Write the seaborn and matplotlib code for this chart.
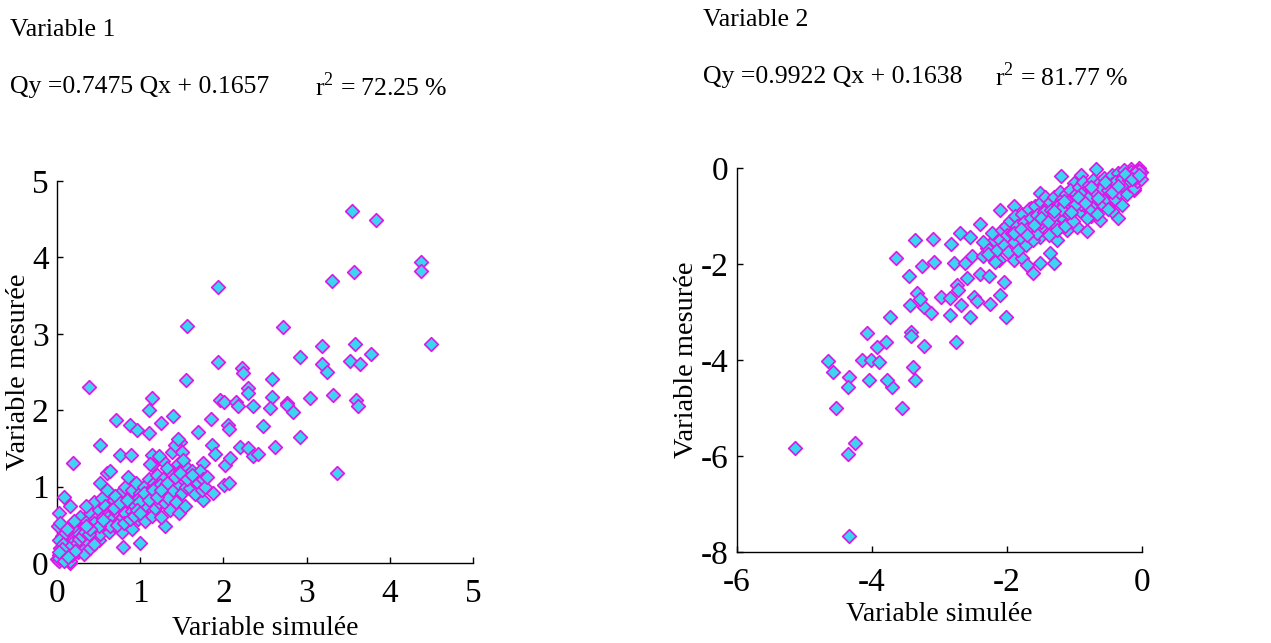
import matplotlib
matplotlib.use("Agg")
import matplotlib.pyplot as plt
import seaborn as sns
import pandas as pd

# ---------------- data ----------------
# Panel 1 : Variable 1 (simulée, mesurée)
v1_sim = [
    3.54, 3.83, 4.37, 4.38, 3.57, 3.30, 1.93, 1.56, 2.72, 4.49, 3.19, 3.58, 2.92, 3.78, 3.52, 3.64,
    3.19, 3.25, 1.94, 2.22, 2.23, 2.58, 1.55, 0.38, 2.29, 2.30, 3.32, 3.04, 2.59, 2.76, 2.77, 3.59,
    3.62, 1.96, 2.01, 2.15, 2.17, 2.36, 2.56, 2.84, 1.14, 1.10, 1.40, 1.85, 0.71, 0.88, 0.96, 1.10,
    1.25, 1.70, 2.06, 2.07, 2.48, 2.92, 0.52, 0.76, 0.89, 1.14, 1.48, 1.86, 1.90, 2.20, 2.30, 2.36,
    2.42, 2.62, 3.37, 0.19, 0.60, 1.14, 1.27, 1.75, 2.02, 2.08, 2.01, 2.07, 1.75, 1.88, 0.08, 0.16,
    0.02, 0.01, 0.52, 0.79, 1.00, 0.16, 1.30,
    0.00, 0.02, 0.03, 0.05, 0.06, 0.08, 0.10, 0.10, 0.12, 0.14, 0.15, 0.16, 0.18, 0.20, 0.22, 0.24,
    0.25, 0.27, 0.28, 0.30, 0.04, 0.06, 0.12, 0.20, 0.02,
    0.32, 0.33, 0.35, 0.36, 0.38, 0.40, 0.40, 0.42, 0.43, 0.45, 0.46, 0.48, 0.50, 0.50, 0.52, 0.54,
    0.55, 0.56, 0.58, 0.60, 0.35, 0.44, 0.52,
    0.60, 0.62, 0.63, 0.65, 0.66, 0.68, 0.70, 0.70, 0.72, 0.73, 0.75, 0.75, 0.77, 0.78, 0.80, 0.80,
    0.82, 0.83, 0.85, 0.86, 0.88, 0.88, 0.90, 0.90, 0.92, 0.93, 0.95, 0.95, 0.97, 0.98, 1.00, 1.00,
    0.64, 0.70, 0.85,
    1.02, 1.03, 1.05, 1.06, 1.08, 1.10, 1.10, 1.12, 1.14, 1.15, 1.16, 1.18, 1.20, 1.20, 1.22, 1.24,
    1.25, 1.26, 1.28, 1.30, 1.30, 1.32, 1.34, 1.35, 1.36, 1.38, 1.40, 1.40, 1.12, 1.22,
    1.42, 1.43, 1.45, 1.46, 1.47, 1.48, 1.50, 1.50, 1.52, 1.54, 1.55, 1.56, 1.58, 1.60, 1.62, 1.64,
    1.66, 1.68, 1.70, 1.72, 1.74, 1.76, 1.78, 1.80, 1.45, 1.52,
    0.55, 0.58, 0.60, 0.62, 0.64, 0.66, 0.68, 0.70, 0.72, 0.74, 0.76, 0.78, 0.80, 0.82, 0.84, 0.86,
    0.88, 0.90, 0.92, 0.94, 0.96, 0.98, 1.00, 1.02, 1.04, 1.06, 0.05, 0.08, 0.10, 0.12, 0.15, 0.18,
    0.02, 0.04, 0.07, 0.22, 0.26, 0.30, 0.34, 0.38,
    1.16, 1.24, 1.32, 1.42, 1.48, 1.56, 1.62,
    0.62, 0.66, 0.70, 0.74, 0.78, 0.82, 0.86, 0.90, 0.94, 0.98, 0.64, 0.68, 0.72, 0.76, 0.80, 0.84,
    0.88, 0.92, 0.96, 1.00, 0.10, 0.14, 0.18, 0.22, 0.06, 0.03, 0.09, 0.13, 1.05, 1.10, 1.15, 1.20,
    1.25, 0.45, 0.50, 0.55, 0.40, 0.35,
]
v1_mes = [
    4.61, 4.49, 3.94, 3.82, 3.81, 3.69, 3.61, 3.10, 3.09, 2.87, 2.84, 2.87, 2.70, 2.74, 2.65, 2.60,
    2.61, 2.50, 2.63, 2.55, 2.49, 2.41, 2.40, 2.30, 2.29, 2.23, 2.20, 2.16, 2.17, 2.09, 2.07, 2.13,
    2.05, 2.13, 2.11, 2.11, 2.05, 2.05, 2.03, 1.98, 2.16, 2.00, 1.92, 1.89, 1.87, 1.81, 1.74, 1.70,
    1.83, 1.71, 1.81, 1.76, 1.79, 1.65, 1.55, 1.42, 1.42, 1.42, 1.59, 1.55, 1.43, 1.52, 1.50, 1.40,
    1.43, 1.52, 1.18, 1.31, 1.18, 1.28, 1.33, 1.31, 1.28, 1.37, 1.02, 1.05, 0.83, 0.91, 0.87, 0.74,
    0.65, 0.49, 1.05, 0.21, 0.26, 0.00, 0.48,
    0.05, 0.10, 0.02, 0.15, 0.08, 0.20, 0.05, 0.30, 0.12, 0.25, 0.40, 0.02, 0.18, 0.33, 0.28, 0.45,
    0.15, 0.38, 0.60, 0.22, 0.52, 0.35, 0.45, 0.55, 0.30,
    0.48, 0.12, 0.30, 0.55, 0.42, 0.20, 0.65, 0.50, 0.35, 0.80, 0.58, 0.45, 0.70, 0.30, 0.55, 0.85,
    0.45, 0.62, 0.75, 0.50, 0.75, 0.25, 0.38,
    0.95, 0.60, 0.40, 0.70, 0.55, 0.82, 0.48, 0.65, 0.58, 0.75, 0.90, 0.52, 0.68, 0.40, 0.78, 0.60,
    1.00, 0.70, 0.55, 0.85, 0.72, 0.62, 0.95, 0.45, 0.80, 0.68, 0.75, 1.05, 0.58, 0.85, 0.72, 0.92,
    1.20, 0.88, 1.12,
    0.65, 0.80, 1.00, 0.55, 0.88, 0.75, 1.10, 0.95, 0.62, 0.85, 1.05, 0.72, 0.92, 1.15, 0.80, 1.00,
    0.60, 0.88, 1.10, 0.78, 0.95, 1.25, 0.85, 1.05, 0.70, 1.45, 0.95, 1.15, 1.30, 1.40,
    1.55, 0.80, 1.05, 1.30, 0.65, 1.20, 0.92, 1.45, 1.10, 0.75, 1.00, 1.25, 1.15, 0.98, 1.20, 1.08,
    0.90, 1.15, 1.05, 1.20, 0.95, 1.10, 1.00, 1.12, 1.62, 1.35,
    0.60, 0.52, 0.58, 0.66, 0.50, 0.62, 0.55, 0.72, 0.64, 0.60, 0.70, 0.62, 0.68, 0.75, 0.66, 0.72,
    0.80, 0.70, 0.76, 0.64, 0.82, 0.70, 0.78, 0.74, 0.85, 0.76, 0.08, 0.12, 0.18, 0.22, 0.15, 0.26,
    0.06, 0.20, 0.25, 0.24, 0.32, 0.35, 0.40, 0.38,
    0.98, 1.02, 1.05, 1.12, 1.18, 1.10, 1.15,
    0.62, 0.58, 0.68, 0.55, 0.72, 0.65, 0.78, 0.68, 0.74, 0.80, 0.48, 0.72, 0.50, 0.78, 0.52, 0.82,
    0.58, 0.62, 0.70, 0.66, 0.10, 0.20, 0.10, 0.16, 0.18, 0.14, 0.02, 0.08, 0.92, 0.82, 0.96, 0.86,
    0.95, 0.52, 0.48, 0.56, 0.45, 0.48,
]

# Panel 2 : Variable 2 (simulée, mesurée)
v2_sim = [
    -5.14, -4.35, -4.25, -4.34, -4.65, -4.58, -4.34, -4.35, -4.53, -3.55, -3.70, -3.78, -4.04, -4.15,
    -4.01, -3.90, -3.93, -3.80, -4.07, -3.73, -3.37, -3.40, -3.23, -3.42, -3.42, -2.75, -3.44, -3.23,
    -3.12, -3.34, -3.29, -2.98, -2.85, -2.85, -3.45, -3.26, -3.08, -3.64, -3.37, -3.09, -2.83, -2.79,
    -2.74, -2.72, -2.68, -2.55, -2.59, -2.49, -2.45, -2.25, -2.02, -2.11, -2.04, -2.40, -2.27, -2.62,
    -2.52, -2.35, -2.30, -2.12, -2.10, -2.70, -2.55, -2.40, -2.11, -1.90, -1.78, -1.61, -1.71, -1.51,
    -1.31, -1.36, -1.20, -0.90, -0.68, -0.35, -0.45, -0.62, -0.81, -1.01, -1.51, -1.65, -1.90, -1.60,
    -1.90, -2.05, -2.20, -1.51, -1.26, -1.11, -0.96, -0.76, -0.41, -0.12, -0.17, -0.05,
    -2.35, -2.28, -2.22, -2.18, -2.15,
    -2.10, -2.08, -2.05, -2.02, -2.00, -1.98, -1.95, -1.92, -1.90, -1.88, -1.85, -1.83, -1.80, -1.78,
    -1.75, -1.72, -1.70, -1.68, -1.65, -1.62, -1.60, -1.58, -1.55, -1.52, -1.50,
    -1.48, -1.46, -1.44, -1.42, -1.40, -1.38, -1.36, -1.34, -1.32, -1.30, -1.28, -1.26, -1.24, -1.22,
    -1.20, -1.18, -1.16, -1.14, -1.12, -1.10, -1.08, -1.06, -1.04, -1.02, -1.00,
    -0.98, -0.96, -0.94, -0.92, -0.90, -0.88, -0.86, -0.84, -0.82, -0.80, -0.78, -0.76, -0.74, -0.72,
    -0.70, -0.68, -0.66, -0.64, -0.62, -0.60, -0.58, -0.56, -0.54, -0.52, -0.50,
    -0.48, -0.46, -0.44, -0.42, -0.40, -0.38, -0.36, -0.34, -0.32, -0.30, -0.28, -0.26, -0.24, -0.22,
    -0.20, -0.18, -0.16, -0.14, -0.12, -0.10, -0.08, -0.06, -0.04, -0.02, -0.01,
    -1.85, -1.75, -1.65, -1.55, -1.45, -1.35, -1.25, -1.15, -1.05, -0.95, -0.85, -0.75, -0.65, -0.55,
    -0.45, -0.35, -0.25, -0.15, -0.05, -1.70, -1.50, -1.30, -1.10, -0.90, -0.70, -0.50, -0.30, -0.10,
    -1.20, -1.10, -1.00, -0.90, -0.80, -0.70, -0.60, -0.50, -0.40, -0.30, -0.20, -0.10, -1.15, -1.05,
    -0.95, -0.85, -0.75, -0.65, -0.55, -0.45, -0.35, -0.25, -0.15, -0.05, -1.90, -1.80, -1.70, -1.60,
    -1.50, -1.40, -1.30,
]
v2_mes = [
    -5.83, -5.95, -5.73, -7.67, -4.03, -4.24, -4.35, -4.56, -4.99, -4.99, -4.57, -4.42, -4.42, -4.00,
    -4.01, -4.05, -3.72, -3.63, -3.44, -3.11, -4.42, -4.14, -3.71, -3.41, -3.51, -3.62, -2.85, -2.89,
    -3.03, -2.61, -2.73, -2.68, -2.71, -3.06, -2.26, -2.04, -1.96, -1.88, -1.51, -1.47, -1.58, -1.98,
    -2.43, -2.54, -2.85, -3.10, -2.30, -2.68, -2.78, -2.83, -3.10, -2.64, -2.37, -2.21, -2.26, -1.98,
    -1.84, -1.84, -1.67, -1.91, -1.64, -1.36, -1.43, -1.16, -0.87, -1.91, -1.88, -2.19, -2.02, -1.98,
    -1.98, -1.77, -0.16, -0.14, -0.03, -1.04, -0.90, -1.08, -1.32, -0.31, -0.52, -0.83, -0.80, -1.15,
    -1.29, -1.43, -1.50, -1.43, -1.50, -1.29, -1.22, -1.01, -0.66, -0.45, -0.03, 0.00,
    -1.55, -1.80, -1.35, -1.95, -1.70,
    -1.50, -1.30, -1.60, -1.20, -1.40, -1.75, -1.10, -1.35, -1.55, -1.00, -1.25, -1.70, -1.45, -0.95,
    -1.15, -1.60, -1.30, -0.85, -1.05, -1.50, -1.20, -0.80, -1.35, -1.00, -0.70,
    -1.20, -0.90, -0.60, -1.05, -0.80, -1.40, -0.70, -0.95, -1.15, -0.60, -0.85, -1.30, -0.75, -0.50,
    -1.00, -0.65, -0.88, -1.20, -0.55, -0.78, -0.95, -0.45, -0.68, -1.10, -0.85,
    -0.55, -0.72, -0.40, -0.90, -0.62, -0.30, -0.78, -0.50, -1.05, -0.65, -0.35, -0.85, -0.55, -0.25,
    -0.70, -0.45, -0.95, -0.58, -0.30, -0.75, -0.48, -0.20, -0.62, -0.38, -0.85,
    -0.52, -0.28, -0.15, -0.45, -0.65, -0.35, -0.10, -0.50, -0.25, -0.78, -0.40, -0.05, -0.30, -0.55,
    -0.18, -0.35, -0.08, -0.25, -0.42, -0.12, -0.28, -0.05, -0.18, -0.08, -0.22,
    -1.20, -1.12, -1.05, -0.98, -0.92, -0.88, -0.80, -0.76, -0.70, -0.64, -0.58, -0.52, -0.45, -0.40,
    -0.34, -0.28, -0.20, -0.14, -0.06, -1.28, -1.12, -0.98, -0.86, -0.75, -0.60, -0.48, -0.36, -0.20,
    -0.85, -0.70, -0.78, -0.55, -0.62, -0.50, -0.42, -0.45, -0.30, -0.22, -0.26, -0.10, -0.68, -0.92,
    -0.60, -0.72, -0.40, -0.62, -0.30, -0.50, -0.38, -0.12, -0.22, -0.14, -1.35, -1.28, -1.40, -1.18,
    -1.05, -1.12, -0.90,
]

titles = ["Variable 1", "Variable 2"]
equations = ["Qy =0.7475 Qx + 0.1657", "Qy =0.9922 Qx + 0.1638"]
r2_texts = ["r$^2$ = 72.25 %", "r$^2$ = 81.77 %"]
x_label = "Variable simulée"
y_label = "Variable mesurée"
ticks1 = [0, 1, 2, 3, 4, 5]
xticks2 = [-6, -4, -2, 0]
yticks2 = [-8, -6, -4, -2, 0]

# ---------------- style ----------------
sns.set_style("ticks")
plt.rcParams["font.family"] = ["Liberation Serif", "DejaVu Serif"]
plt.rcParams["mathtext.fontset"] = "custom"
plt.rcParams["mathtext.rm"] = "Liberation Serif"
plt.rcParams["axes.unicode_minus"] = False
plt.rcParams["text.color"] = "black"
plt.rcParams["axes.labelcolor"] = "black"

FACE = "#3DD3F2"
EDGE = "#DD18E6"

W, H = 1271, 643
fig = plt.figure(figsize=(W / 100, H / 100), dpi=100)
fig.patch.set_facecolor("white")

def px_axes(l, r, t, b):
    return fig.add_axes([l / W, (H - b) / H, (r - l) / W, (b - t) / H])

ax1 = px_axes(57, 473, 181, 563)
ax2 = px_axes(737, 1142, 168, 552)

df1 = pd.DataFrame({"sim": v1_sim, "mes": v1_mes})
df2 = pd.DataFrame({"sim": v2_sim, "mes": v2_mes})

for ax, df in [(ax1, df1), (ax2, df2)]:
    sns.scatterplot(data=df, x="sim", y="mes", ax=ax, marker="D", s=48,
                    color=FACE, edgecolor=EDGE, linewidth=1.25, legend=False, zorder=3)
    ax.set_facecolor("white")
    sns.despine(ax=ax)
    for sp in ["left", "bottom"]:
        ax.spines[sp].set_linewidth(1.0)
        ax.spines[sp].set_color("black")
    ax.tick_params(direction="in", length=4.5, width=1.0, labelsize=24,
                   colors="black", labelcolor="black")
    ax.tick_params(axis="x", pad=11)
    ax.tick_params(axis="y", pad=6)
    ax.set_ylabel(y_label, fontsize=20.5, labelpad=1, color="black")
    for c in ax.collections:
        c.set_clip_on(False)

ax1.set_xlabel(x_label, fontsize=20, labelpad=5, color="black")
ax2.set_xlabel(x_label, fontsize=20, labelpad=3, color="black")

ax1.set_xlim(0, 5)
ax1.set_ylim(0, 5)
ax1.set_xticks(ticks1)
ax1.set_yticks(ticks1)

ax2.set_xlim(-6, 0)
ax2.set_ylim(-8, 0)
ax2.set_xticks(xticks2)
ax2.set_yticks(yticks2)

# ---------------- header texts ----------------
HS = 18.5
fig.text(10 / W, 1 - 30 / H, titles[0], fontsize=HS, va="center", ha="left", color="black")
fig.text(10 / W, 1 - 87 / H, equations[0], fontsize=HS, va="center", ha="left", color="black")
fig.text(315 / W, 1 - 87 / H, r2_texts[0], fontsize=HS, va="center", ha="left", color="black")

fig.text(703 / W, 1 - 20 / H, titles[1], fontsize=HS, va="center", ha="left", color="black")
fig.text(703 / W, 1 - 77 / H, equations[1], fontsize=HS, va="center", ha="left", color="black")
fig.text(995 / W, 1 - 77 / H, r2_texts[1], fontsize=HS, va="center", ha="left", color="black")

fig.savefig("out.png", dpi=100, facecolor="white")
